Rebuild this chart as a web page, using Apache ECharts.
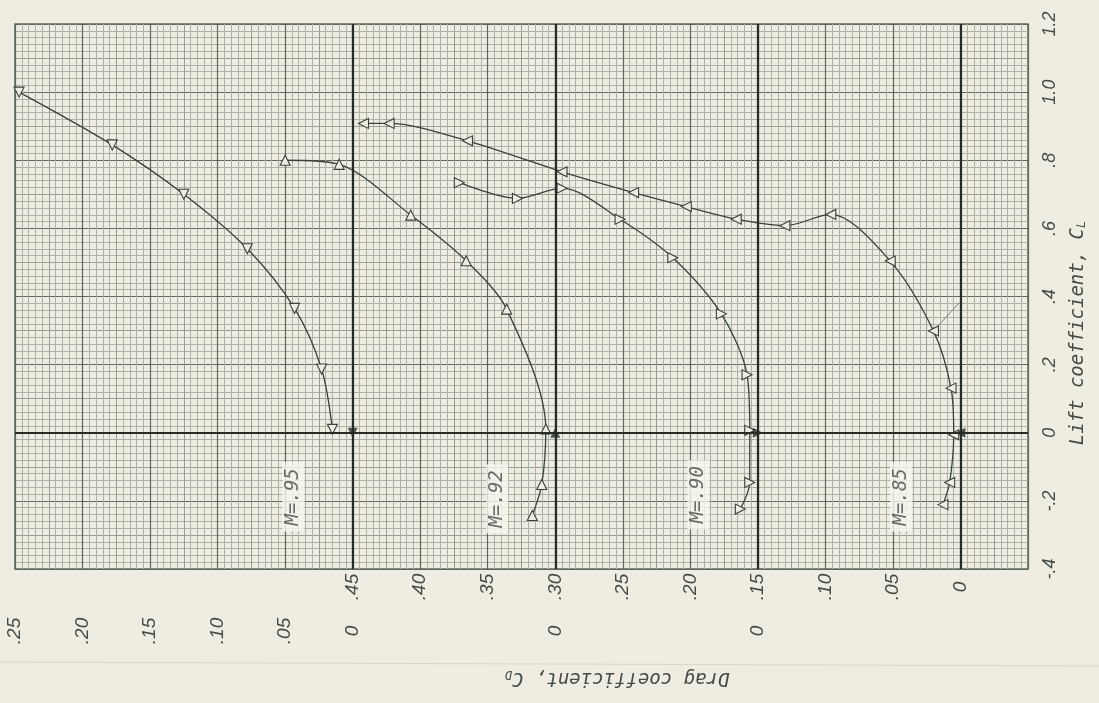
<!DOCTYPE html>
<html>
<head>
<meta charset="utf-8">
<script src="https://cdn.jsdelivr.net/npm/echarts@6/dist/echarts.min.js"></script>
<style>
  html, body { margin: 0; padding: 0; background: #efede1; }
  #chart { width: 1099px; height: 703px; }
</style>
</head>
<body>
<div id="chart"></div>
<script>
// Drag polars: lift coefficient vs drag coefficient at four Mach numbers.
// Each Mach number has its own drag scale; curves are shifted along the
// drag axis by a fixed offset so that they sit side by side.

const machNames = ['M=.85', 'M=.90', 'M=.92', 'M=.95'];
const dragOffsets = [0, 0.15, 0.30, 0.45];          // zero of each drag scale
const markerRotate = [90, -90, 0, 180];             // ◁  ▷  △  ▽

// M = .85
const cd85 = [0.442, 0.423, 0.365, 0.295, 0.242, 0.203, 0.166, 0.130, 0.096, 0.052, 0.020, 0.007, 0.005, 0.008, 0.013];
const cl85 = [0.908, 0.908, 0.857, 0.766, 0.705, 0.664, 0.627, 0.608, 0.641, 0.504, 0.299, 0.131, -0.006, -0.146, -0.211];
// M = .90
const cd90 = [0.221, 0.178, 0.145, 0.102, 0.063, 0.027, 0.008, 0.006, 0.006, 0.013];
const cl90 = [0.734, 0.688, 0.718, 0.627, 0.514, 0.349, 0.170, 0.007, -0.146, -0.224];
// M = .92
const cd92 = [0.200, 0.160, 0.107, 0.066, 0.036, 0.007, 0.010, 0.017];
const cl92 = [0.800, 0.788, 0.639, 0.505, 0.363, 0.011, -0.152, -0.243];
// M = .95
const cd95 = [0.247, 0.178, 0.125, 0.078, 0.043, 0.023, 0.015];
const cl95 = [1.000, 0.845, 0.700, 0.540, 0.365, 0.187, 0.010];

// short leader stroke from the M=.85 curve
const leaderCd = [0.020, 0.001];
const leaderCl = [0.299, 0.381];

// Mach label placement, in each curve's own drag scale
const labelCd = [0.044, 0.044, 0.043, 0.044];
const labelCl = [-0.188, -0.182, -0.194, -0.188];

// tick labels
const cdTicksRow1 = [0, 0.05, 0.10, 0.15, 0.20, 0.25, 0.30, 0.35, 0.40, 0.45];
const cdZeroTicksRow2 = [0.15, 0.30, 0.45];
const cdTicksM95 = [0.05, 0.10, 0.15, 0.20, 0.25];
const clTicks = [-0.4, -0.2, 0, 0.2, 0.4, 0.6, 0.8, 1.0, 1.2];

const cdList = [cd85, cd90, cd92, cd95];
const clList = [cl85, cl90, cl92, cl95];

const PAPER = '#efede1';
const INK = '#3b413c';
const TEXT = '#454b47';
const FINE = '#abb2a8';
const HALF = '#969e94';
const MED = '#5d675e';
const HEAVY = '#262c27';

const TICK_FONT = "'Liberation Sans', 'DejaVu Sans', sans-serif";
const LETTER_FONT = "'DejaVu Sans Mono', 'Liberation Mono', monospace";

const near = (a, b) => Math.abs(a - b) < 1e-6;
const inList = (v, list) => list.some(t => near(t, v));
const strip = s => s.replace(/^(-?)0\./, '$1.');
const fmtCd = v => near(v, 0) ? '0' : strip(v.toFixed(2));
const fmtCl = v => near(v, 0) ? '0' : strip(v.toFixed(1));

function row1Label(v) {
  return inList(v, cdTicksRow1) ? fmtCd(v) : '';
}
function row2Label(v) {
  if (inList(v, cdZeroTicksRow2)) return '0';
  const rel = v - dragOffsets[3];
  return inList(rel, cdTicksM95) ? fmtCd(rel) : '';
}

const tickLabelStyle = {
  color: TEXT, fontFamily: TICK_FONT, fontStyle: 'italic', fontSize: 19,
  rotate: 90, align: 'center', verticalAlign: 'middle'
};

const xBase = { type: 'value', min: -0.05, max: 0.70, inverse: true, gridIndex: 0,
  axisLine: { show: false }, axisTick: { show: false } };
const yBase = { type: 'value', min: -0.4, max: 1.2, gridIndex: 0,
  axisLine: { show: false }, axisTick: { show: false } };

const curveSeries = cdList.map((cd, i) => ({
  name: machNames[i],
  type: 'line',
  xAxisIndex: 1, yAxisIndex: 1,
  data: cd.map((d, k) => [d + dragOffsets[i], clList[i][k]]),
  smooth: 0.3,
  symbol: 'triangle',
  symbolSize: 10,
  symbolRotate: markerRotate[i],
  showSymbol: true,
  lineStyle: { color: INK, width: 1.3 },
  itemStyle: { color: PAPER, borderColor: INK, borderWidth: 1.1 },
  z: 4,
  silent: true
}));

const option = {
  backgroundColor: PAPER,
  animation: false,
  grid: { left: 15, right: 71, top: 24, bottom: 134, show: true,
          borderColor: MED, borderWidth: 1.5, backgroundColor: 'transparent' },
  xAxis: [
    Object.assign({}, xBase, { position: 'bottom', interval: 0.025,
      axisLabel: { show: false },
      splitLine: { show: true, lineStyle: { color: HALF, width: 1 } },
      minorTick: { show: false, splitNumber: 5 },
      minorSplitLine: { show: true, lineStyle: { color: FINE, width: 1 } } }),
    Object.assign({}, xBase, { position: 'bottom', interval: 0.05,
      splitLine: { show: true, lineStyle: { color: MED, width: 1.2 } },
      axisLabel: Object.assign({ margin: 18, formatter: row1Label, showMinLabel: true, showMaxLabel: true }, tickLabelStyle) }),
    Object.assign({}, xBase, { position: 'bottom', interval: 0.05,
      splitLine: { show: false },
      axisLabel: Object.assign({ margin: 62, formatter: row2Label, showMinLabel: true, showMaxLabel: true }, tickLabelStyle) })
  ],
  yAxis: [
    Object.assign({}, yBase, { position: 'right', interval: 0.1,
      axisLabel: { show: false },
      splitLine: { show: true, lineStyle: { color: HALF, width: 1 } },
      minorTick: { show: false, splitNumber: 5 },
      minorSplitLine: { show: true, lineStyle: { color: FINE, width: 1 } } }),
    Object.assign({}, yBase, { position: 'right', interval: 0.2,
      splitLine: { show: true, lineStyle: { color: MED, width: 1.2 } },
      axisLabel: Object.assign({ margin: 22,
        formatter: v => inList(v, clTicks) ? fmtCl(v) : '' }, tickLabelStyle, { fontSize: 18 }) })
  ],
  series: [
    // heavy zero lines for each drag scale and for the lift axis
    {
      type: 'line', xAxisIndex: 1, yAxisIndex: 1, data: [], z: 2, silent: true,
      markLine: {
        silent: true, symbol: 'none', label: { show: false },
        lineStyle: { color: HEAVY, width: 2.2, type: 'solid' },
        data: dragOffsets.map(o => ({ xAxis: o })).concat([{ yAxis: 0 }])
      }
    },
    ...curveSeries,
    // leader stroke
    {
      type: 'line', xAxisIndex: 1, yAxisIndex: 1, silent: true, z: 3,
      data: leaderCd.map((d, k) => [d, leaderCl[k]]),
      symbol: 'none', lineStyle: { color: '#6d766e', width: 0.9 }
    },
    // solid reference markers at each scale origin
    {
      type: 'scatter', xAxisIndex: 1, yAxisIndex: 1, silent: true, z: 5,
      symbol: 'triangle', symbolSize: 10,
      itemStyle: { color: HEAVY },
      data: dragOffsets.map((o, i) => ({ value: [o, 0], symbolRotate: markerRotate[i] }))
    },
    // Mach number tags
    {
      type: 'scatter', xAxisIndex: 1, yAxisIndex: 1, silent: true, z: 6,
      symbolSize: 0,
      data: machNames.map((n, i) => ({ value: [labelCd[i] + dragOffsets[i], labelCl[i]], name: n })),
      label: {
        show: true, position: 'inside', formatter: p => p.name, rotate: 90,
        color: TEXT, fontFamily: LETTER_FONT, fontStyle: 'italic', fontSize: 19,
        backgroundColor: '#f7f6ef', padding: [2, 6, 1, 6]
      }
    }
  ],
  graphic: [
    {
      type: 'line', silent: true, z: 0,
      shape: { x1: 0, y1: 662, x2: 1099, y2: 666 },
      style: { stroke: '#d9d7cb', lineWidth: 1 }
    },
    {
      type: 'text', x: 1078, y: 333, rotation: Math.PI / 2, silent: true,
      style: {
        text: '{t|Lift coefficient, C}{s|L}',
        align: 'center', verticalAlign: 'middle',
        rich: {
          t: { fontFamily: LETTER_FONT, fontStyle: 'italic', fontSize: 19, fill: TEXT, color: TEXT },
          s: { fontFamily: LETTER_FONT, fontStyle: 'italic', fontSize: 12, fill: TEXT, color: TEXT, padding: [8, 0, 0, 0] }
        }
      }
    },
    {
      type: 'text', x: 617, y: 678, rotation: Math.PI, silent: true,
      style: {
        text: '{t|Drag coefficient, C}{s|D}',
        align: 'center', verticalAlign: 'middle',
        rich: {
          t: { fontFamily: LETTER_FONT, fontStyle: 'italic', fontSize: 19, fill: TEXT, color: TEXT },
          s: { fontFamily: LETTER_FONT, fontStyle: 'italic', fontSize: 12, fill: TEXT, color: TEXT, padding: [8, 0, 0, 0] }
        }
      }
    }
  ]
};

const chart = echarts.init(document.getElementById('chart'), null, { renderer: 'canvas' });
chart.setOption(option);
</script>
</body>
</html>
